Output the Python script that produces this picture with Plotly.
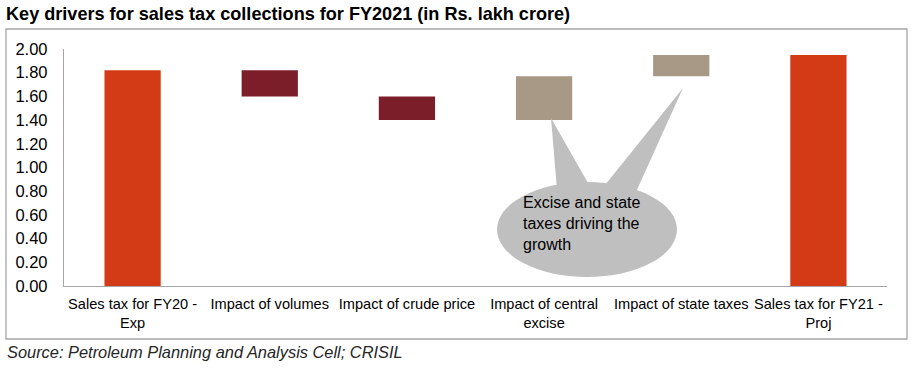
import plotly.graph_objects as go

categories = ["Sales tax for FY20 -<br>Exp", "Impact of volumes", "Impact of crude price",
              "Impact of central<br>excise", "Impact of state taxes", "Sales tax for FY21 -<br>Proj"]
measures = ["absolute", "relative", "relative", "relative", "relative", "total"]
values = [1.82, -0.22, -0.20, 0.37, 0.18, 0]
y_ticks = [0, 0.2, 0.4, 0.6, 0.8, 1.0, 1.2, 1.4, 1.6, 1.8, 2.0]

TOTAL_C = "#D33A16"
DEC_C = "#7B1E2A"
INC_C = "#A89886"
CALLOUT_C = "#BFBFBF"

W, H = 915, 372
L, R, T, B = 64, 915 - 887, 49, 372 - 286
PW, PH = W - L - R, H - T - B


def px(x):
    return (x - L) / PW


def py(y):
    return (H - B - y) / PH


fig = go.Figure(go.Waterfall(
    x=categories, y=values, measure=measures,
    increasing=dict(marker=dict(color=INC_C)),
    decreasing=dict(marker=dict(color=DEC_C)),
    totals=dict(marker=dict(color=TOTAL_C)),
    connector=dict(visible=False),
    textinfo="none", hoverinfo="x+y",
))

shapes = [
    # outer border
    dict(type="rect", xref="paper", yref="paper", x0=px(6), x1=px(907), y0=py(339), y1=py(29),
         line=dict(color="#A6A6A6", width=1.3), fillcolor="rgba(0,0,0,0)", layer="below"),
    # callout spikes
    dict(type="path", xref="paper", yref="paper",
         path=f"M {px(551)} {py(118)} L {px(557)} {py(190)} L {px(592)} {py(190)} Z",
         fillcolor=CALLOUT_C, line=dict(width=0)),
    dict(type="path", xref="paper", yref="paper",
         path=f"M {px(683)} {py(88)} L {px(601)} {py(190)} L {px(636)} {py(192)} Z",
         fillcolor=CALLOUT_C, line=dict(width=0)),
    # callout ellipse
    dict(type="circle", xref="paper", yref="paper", x0=px(497), x1=px(677), y0=py(277), y1=py(182),
         fillcolor=CALLOUT_C, line=dict(width=0)),
]

annotations = [
    dict(text="<b>Key drivers for sales tax collections for FY2021 (in Rs. lakh crore)</b>",
         xref="paper", yref="paper", x=px(4), y=py(14), xanchor="left", yanchor="middle",
         showarrow=False, font=dict(size=18.1, color="#000000")),
    dict(text="<i>Source: Petroleum Planning and Analysis Cell; CRISIL</i>",
         xref="paper", yref="paper", x=px(5), y=py(352), xanchor="left", yanchor="middle",
         showarrow=False, font=dict(size=16.4, color="#262626")),
    dict(text="Excise and state<br>taxes driving the<br>growth",
         xref="paper", yref="paper", x=px(521), y=py(192), xanchor="left", yanchor="top",
         align="left", showarrow=False, font=dict(size=16, color="#000000")),
]

fig.update_layout(
    width=W, height=H,
    margin=dict(l=L, r=R, t=T, b=B, pad=0),
    paper_bgcolor="white", plot_bgcolor="white",
    font=dict(family="Liberation Sans, Arial, sans-serif", color="#000000"),
    showlegend=False,
    waterfallgap=0.59,
    shapes=shapes,
    annotations=annotations,
    xaxis=dict(showline=True, linecolor="#A6A6A6", linewidth=1.3, showgrid=False,
               ticks="outside", ticklen=4, tickcolor="rgba(0,0,0,0)",
               tickfont=dict(size=14.6, color="#000000"), tickangle=0),
    yaxis=dict(range=[0, 2.0], tickvals=y_ticks, ticktext=[f"{v:.2f}" for v in y_ticks],
               showline=True, linecolor="#A6A6A6", linewidth=1.3, showgrid=False, zeroline=False,
               ticks="outside", ticklen=12, tickcolor="rgba(0,0,0,0)",
               tickfont=dict(size=16.5, color="#000000")),
)

fig.write_html("out.html", config={"displayModeBar": False},
               post_script="document.body.style.margin='0';document.body.style.overflow='hidden';")
